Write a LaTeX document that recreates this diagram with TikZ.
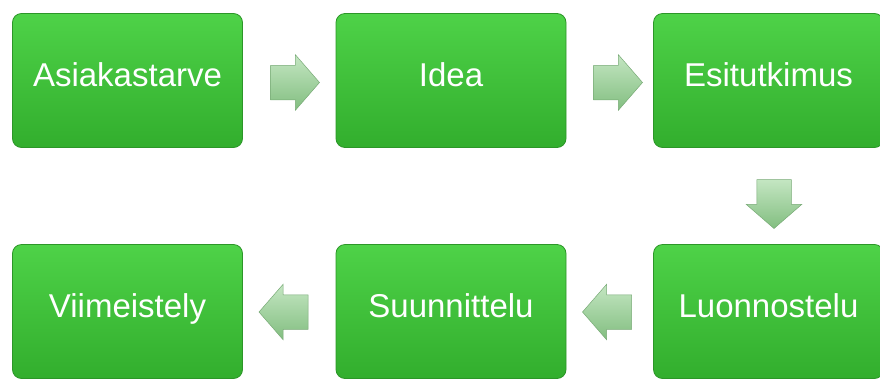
\documentclass[tikz,border=0pt]{standalone}
\usepackage{fontspec}
\setmainfont{Liberation Sans}
\usetikzlibrary{shapes.arrows}
\definecolor{boxtop}{RGB}{78,210,72}
\definecolor{boxbottom}{RGB}{50,174,45}
\definecolor{boxline}{RGB}{44,150,40}
\definecolor{arrowtop}{RGB}{196,230,194}
\definecolor{arrowbottom}{RGB}{130,190,128}
\definecolor{arrowline}{RGB}{120,170,118}
\tikzstyle{phase}=[rectangle,rounded corners=9pt,draw=boxline,line width=0.8pt,top color=boxtop,bottom color=boxbottom,minimum width=230pt,minimum height=134pt,text=white,font=\fontsize{33}{36}\selectfont,text height=1.3em,text depth=0.2em]
\tikzstyle{step arrow}=[single arrow,draw=arrowline,line width=0.5pt,top color=arrowtop,bottom color=arrowbottom,minimum height=49pt,inner xsep=0pt,inner ysep=17pt,single arrow head extend=10.5pt,single arrow tip angle=98]
\tikzstyle{down arrow}=[step arrow,shape border rotate=270,inner xsep=17pt,inner ysep=0pt]

\begin{document}
\begin{tikzpicture}[x=1pt,y=-1pt]
    \useasboundingbox (0,0) rectangle (880,381);
    % First we draw the phases
    \foreach \pos/\name/\txt in {{(127.5,80.5)/asiakas/Asiakastarve},{(451,80.5)/idea/Idea},{(768.5,80.5)/esitutkimus/Esitutkimus},
        {(127.5,311.5)/viimeistely/Viimeistely},{(451,311.5)/suunnittelu/Suunnittelu},{(768.5,311.5)/luonnostelu/Luonnostelu}}
        \node[phase] (\name) at \pos {\txt};

    % Then the arrows between them
    \foreach \pos/\name/\dir in {{(287.5,82.5)/a1/0},{(610.5,82.5)/a2/0},{(614.5,312)/a4/180},{(291,312)/a5/180}}
        \node[step arrow,shape border rotate=\dir] (\name) at \pos {};
    \node[down arrow] (a3) at (774,196.5) {};

\end{tikzpicture}
\end{document}
